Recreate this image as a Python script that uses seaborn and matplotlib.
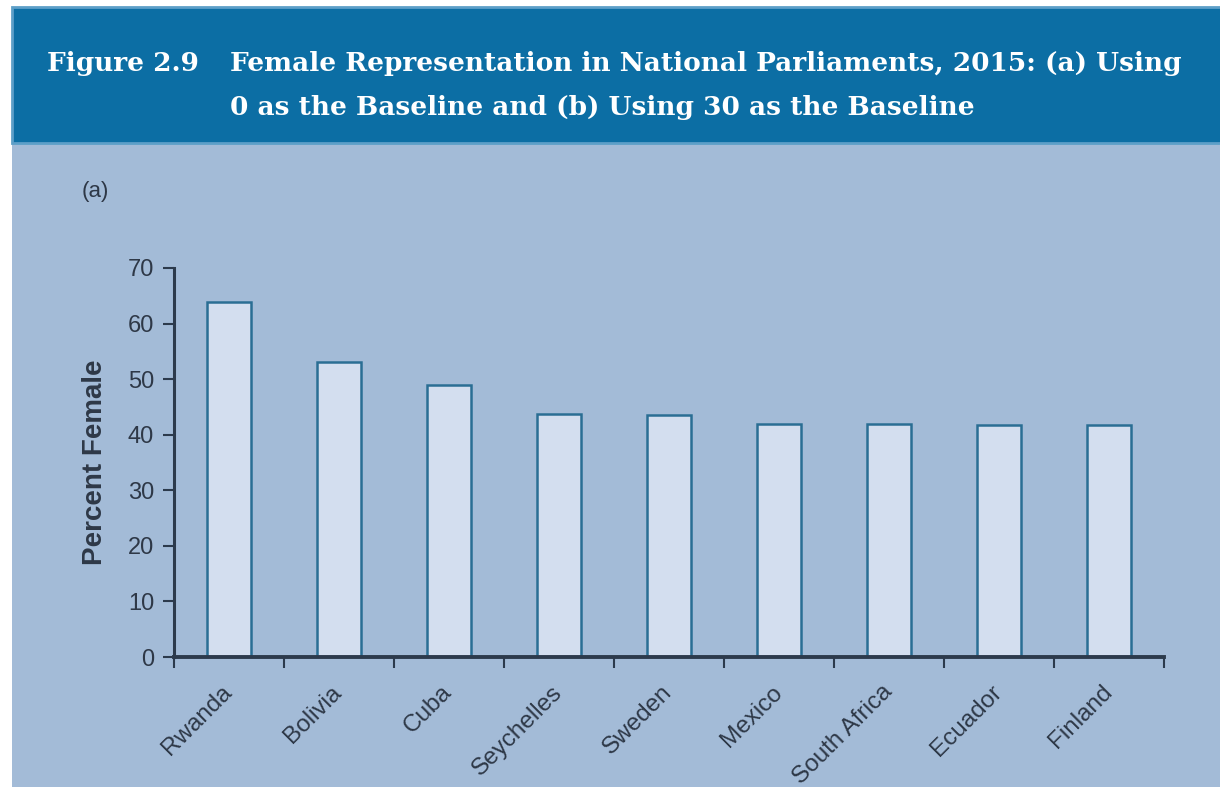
import numpy as np
import pandas as pd
import matplotlib
matplotlib.use('Agg')
import matplotlib.pyplot as plt
import matplotlib.patches as mpatches
import seaborn as sns

# dados (painel a)
paises = ['Rwanda', 'Bolivia', 'Cuba', 'Seychelles', 'Sweden',
          'Mexico', 'South Africa', 'Ecuador', 'Finland']
pct_mulheres = [63.8, 53.1, 48.9, 43.8, 43.6, 42.0, 41.9, 41.8, 41.8]
yticks = [0, 10, 20, 30, 40, 50, 60, 70]

titulo_l1a = 'Figure 2.9'
titulo_l1b = 'Female Representation in National Parliaments, 2015: (a) Using'
titulo_l2 = '0 as the Baseline and (b) Using 30 as the Baseline'

COR_FUNDO = '#a3bbd7'
COR_FAIXA = '#0c6ea4'
COR_BARRA = '#d3deef'
COR_BORDA = '#2a6e94'
COR_EIXO = '#2c3a4c'
COR_TEXTO = '#2e3847'

df = pd.DataFrame({'Pais': paises, 'Pct': pct_mulheres})

W, H = 1220, 787
fig = plt.figure(figsize=(W / 100, H / 100), dpi=100, facecolor='white')

# fundo azul claro e faixa do título
fig.patches.append(mpatches.Rectangle((12 / W, 0), 1, 1 - 7 / H, transform=fig.transFigure,
                                      facecolor=COR_FUNDO, edgecolor='none', zorder=-2))
fig.patches.append(mpatches.Rectangle((12 / W, 1 - 143 / H), 1, 136 / H, transform=fig.transFigure,
                                      facecolor=COR_FAIXA, edgecolor='#5d9fc8', linewidth=2, zorder=-1))

fonte_titulo = dict(color='white', fontsize=19, fontweight='bold', family='DejaVu Serif', va='baseline')
fig.text(47 / W, 1 - 71 / H, titulo_l1a, **fonte_titulo)
fig.text(230 / W, 1 - 71 / H, titulo_l1b, **fonte_titulo)
fig.text(230 / W, 1 - 115 / H, titulo_l2, **fonte_titulo)

fig.text(82 / W, 1 - 192 / H, '(a)', fontsize=16, color=COR_TEXTO, va='center', family='Liberation Sans')

ax = fig.add_axes([173.5 / W, 1 - 657 / H, (1164 - 173.5) / W, (657 - 268) / H])
ax.set_facecolor('none')

sns.barplot(data=df, x='Pais', y='Pct', ax=ax, width=0.4, color=COR_BARRA,
            edgecolor=COR_BORDA, linewidth=1.8, saturation=1)

ax.set_xlim(-0.5, len(paises) - 0.5)
ax.set_ylim(0, 70)
ax.set_yticks(yticks)
# ticks maiores nas fronteiras das categorias, rótulos no centro (ticks menores)
ax.set_xticks(np.arange(-0.5, len(paises), 1))
ax.set_xticklabels([])
ax.set_xticks(range(len(paises)), minor=True)
ax.set_xticklabels(paises, minor=True, rotation=45, ha='right', va='center',
                   rotation_mode='anchor', fontsize=17.5, color=COR_TEXTO,
                   family='Liberation Sans')

ax.tick_params(axis='x', which='major', length=8, width=1.5, color=COR_EIXO, direction='out')
ax.tick_params(axis='x', which='minor', length=0, pad=23)
ax.tick_params(axis='y', length=8, width=1.5, color=COR_EIXO, labelsize=17,
               labelcolor=COR_TEXTO, pad=6)
for lbl in ax.get_yticklabels():
    lbl.set_family('Liberation Sans')

for lado in ['top', 'right']:
    ax.spines[lado].set_visible(False)
ax.spines['left'].set_color(COR_EIXO)
ax.spines['left'].set_linewidth(2.2)
ax.spines['bottom'].set_color(COR_EIXO)
ax.spines['bottom'].set_linewidth(2.8)

ax.set_xlabel('')
ax.set_ylabel('Percent Female', fontsize=20, fontweight='bold', color=COR_TEXTO,
              family='Liberation Sans', labelpad=14)

fig.savefig('out.png', dpi=100, facecolor='white')
